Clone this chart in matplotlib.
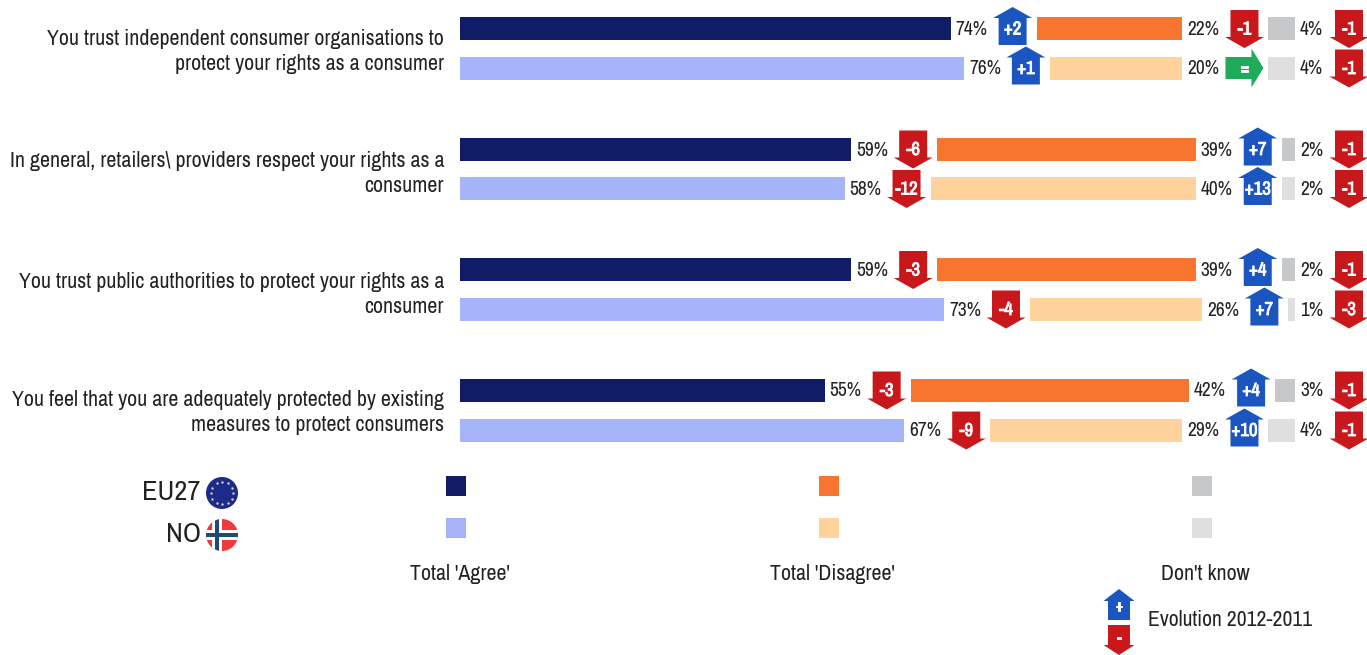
import matplotlib
matplotlib.use("Agg")
import matplotlib.pyplot as plt
from matplotlib import font_manager as fm
from matplotlib import patheffects
from matplotlib.patches import Polygon, Circle, Rectangle
import numpy as np

# narrow face if the machine has one, otherwise shrink the regular one
installed = set(f.name for f in fm.fontManager.ttflist)
if 'Archivo Narrow' in installed:
    plt.rcParams['font.family'] = ['Archivo Narrow', 'Liberation Sans', 'DejaVu Sans']
    FS = 1.0
else:
    plt.rcParams['font.family'] = ['Liberation Sans', 'DejaVu Sans']
    FS = 0.85

questions = [
    "You trust independent consumer organisations to\nprotect your rights as a consumer",
    "In general, retailers\\ providers respect your rights as a\nconsumer",
    "You trust public authorities to protect your rights as a\nconsumer",
    "You feel that you are adequately protected by existing\nmeasures to protect consumers",
]
question_y = [51.5, 173.5, 294.5, 412.5]

eu_agree = [74, 59, 59, 55]
eu_disagree = [22, 39, 39, 42]
eu_dk = [4, 2, 2, 3]
no_agree = [76, 58, 73, 67]
no_disagree = [20, 40, 26, 29]
no_dk = [4, 2, 1, 4]

eu_agree_evo = ["+2", "-6", "-3", "-3"]
eu_disagree_evo = ["-1", "+7", "+4", "+4"]
eu_dk_evo = ["-1", "-1", "-1", "-1"]
no_agree_evo = ["+1", "-12", "-4", "-9"]
no_disagree_evo = ["=", "+13", "+7", "+10"]
no_dk_evo = ["-1", "-1", "-3", "-1"]

eu_y = [28.5, 149, 269.5, 390]
no_y = [68, 188.5, 309, 430]

NAVY = '#101c66'
PERI = '#a6b4fa'
ORANGE = '#f7762f'
PEACH = '#ffd39b'
GREY = '#c6c8ca'
LGREY = '#dfdfdf'
BLUE = '#1b55c0'
RED = '#c8181c'
GREEN = '#1eab5a'
TEXT = '#222222'

SCALE = 6.63   # pixels per percent
GAP = 86       # room for the label and the arrow between two bars
START = 460

fig = plt.figure(figsize=(13.67, 6.55), dpi=100)
ax = fig.add_axes([0, 0, 1, 1])
ax.set_xlim(0, 1367)
ax.set_ylim(655, 0)
ax.axis('off')

# the narrow face has no bold, thicken the arrow labels with a stroke
BOLD = [patheffects.withStroke(linewidth=0.6, foreground='white')]


def up_arrow(x, y, color=BLUE, hw=19.5, bw=14, top=21.5, bottom=16.5, neck=10.5):
    pts = [(x, y - top), (x + hw, y - neck), (x + bw, y - neck), (x + bw, y + bottom),
           (x - bw, y + bottom), (x - bw, y - neck), (x - hw, y - neck)]
    ax.add_patch(Polygon(pts, closed=True, color=color, lw=0, zorder=3))


def down_arrow(x, y, color=RED, hw=19.5, bw=14, top=18.5, bottom=19.5, neck=8.5):
    pts = [(x, y + bottom), (x + hw, y + neck), (x + bw, y + neck), (x + bw, y - top),
           (x - bw, y - top), (x - bw, y + neck), (x - hw, y + neck)]
    ax.add_patch(Polygon(pts, closed=True, color=color, lw=0, zorder=3))


def right_arrow(x, y, color=GREEN):
    pts = [(x + 19, y), (x + 7, y - 19.5), (x + 7, y - 11), (x - 19, y - 11),
           (x - 19, y + 11), (x + 7, y + 11), (x + 7, y + 19.5)]
    ax.add_patch(Polygon(pts, closed=True, color=color, lw=0, zorder=3))


def evo_arrow(x, y, evo):
    if evo.startswith('+'):
        up_arrow(x, y)
    elif evo.startswith('-'):
        down_arrow(x, y)
    else:
        right_arrow(x, y)
    ax.text(x, y + 1, evo, color='white', fontsize=13.5 * FS, ha='center', va='center',
            zorder=4, path_effects=BOLD)


def draw_row(y, values, evos, colors):
    left = START
    for i in range(3):
        w = values[i] * SCALE
        ax.barh(y, w, height=23, left=left, color=colors[i], lw=0)
        ax.text(left + w + 5, y + 1, str(values[i]) + '%', color=TEXT, fontsize=14 * FS,
                ha='left', va='center')
        if i < 2:
            evo_arrow(left + w + 62, y, evos[i])
        else:
            evo_arrow(1349, y, evos[i])
        left += w + GAP


for r in range(len(questions)):
    ax.text(444, question_y[r], questions[r], color=TEXT, fontsize=15.8 * FS, ha='right',
            va='center', multialignment='right', linespacing=1.3)
    draw_row(eu_y[r], [eu_agree[r], eu_disagree[r], eu_dk[r]],
             [eu_agree_evo[r], eu_disagree_evo[r], eu_dk_evo[r]], [NAVY, ORANGE, GREY])
    draw_row(no_y[r], [no_agree[r], no_disagree[r], no_dk[r]],
             [no_agree_evo[r], no_disagree_evo[r], no_dk_evo[r]], [PERI, PEACH, LGREY])

# legend squares
for x0, c1, c2 in [(446, NAVY, PERI), (819, ORANGE, PEACH), (1192, GREY, LGREY)]:
    ax.add_patch(Rectangle((x0, 476), 20, 20, color=c1, lw=0))
    ax.add_patch(Rectangle((x0, 518), 20, 20, color=c2, lw=0))

ax.text(460, 574, "Total 'Agree'", color=TEXT, fontsize=15.8 * FS, ha='center', va='center')
ax.text(832, 574, "Total 'Disagree'", color=TEXT, fontsize=15.8 * FS, ha='center', va='center')
ax.text(1205, 574, "Don't know", color=TEXT, fontsize=15.8 * FS, ha='center', va='center')

# country flags
ax.text(201, 492, "EU27", color=TEXT, fontsize=20.5 * FS, ha='right', va='center')
ax.text(201, 534, "NO", color=TEXT, fontsize=20.5 * FS, ha='right', va='center')

ax.add_patch(Circle((222, 493), 16, color='#1c2a8c', lw=0))
ang = np.arange(12) * np.pi / 6
ax.scatter(222 + 11 * np.cos(ang), 493 + 11 * np.sin(ang), s=3, color='#d8d8a0', lw=0, zorder=3)

flag = Circle((222, 535), 16, color='#ee3a3c', lw=0)
ax.add_patch(flag)
for rect, col in [(((206, 530), 32, 10), 'white'), (((212, 519), 10, 32), 'white'),
                  (((206, 533), 32, 4), '#1f4a78'), (((215, 519), 4, 32), '#1f4a78')]:
    p = Rectangle(*rect, color=col, lw=0, zorder=3)
    ax.add_patch(p)
    p.set_clip_path(flag)

# evolution key
up_arrow(1119, 610, hw=15.5, bw=11, top=21, bottom=10, neck=9)
ax.text(1119, 606, '+', color='white', fontsize=12 * FS, ha='center', va='center', zorder=4, path_effects=BOLD)
down_arrow(1119, 635, hw=15.5, bw=11, top=10, bottom=20, neck=10)
ax.text(1119, 638, '-', color='white', fontsize=12 * FS, ha='center', va='center', zorder=4, path_effects=BOLD)
ax.text(1148, 620, "Evolution 2012-2011", color=TEXT, fontsize=15.6 * FS, ha='left', va='center')

fig.savefig('out.png', dpi=100)
